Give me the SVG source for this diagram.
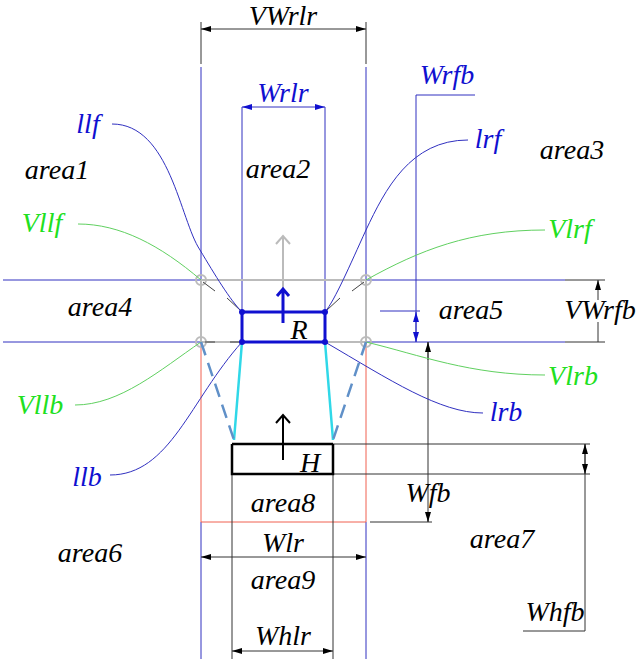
<svg xmlns="http://www.w3.org/2000/svg" width="640" height="659" viewBox="0 0 640 659">
<style>
text{font-family:"Liberation Serif",serif;font-style:italic;font-size:28px;text-anchor:middle}
.k{fill:#000}.b{fill:#1010d0}.g{fill:#20e020}
.bl{stroke:#3030c0;stroke-width:1;fill:none}
.gl{stroke:#60d060;stroke-width:1;fill:none}
.dk{stroke:#333;stroke-width:1;fill:none}
.gr{stroke:#bbb;stroke-width:2;fill:none}
</style>
<defs>
<marker id="ak" markerWidth="10" markerHeight="6" refX="10" refY="3" orient="auto-start-reverse" markerUnits="userSpaceOnUse"><path d="M0,0L10,3L0,6z" fill="#000"/></marker>
<marker id="ab" markerWidth="10" markerHeight="6" refX="10" refY="3" orient="auto-start-reverse" markerUnits="userSpaceOnUse"><path d="M0,0L10,3L0,6z" fill="#1010d0"/></marker>
</defs>
<g id="connectors">
<path class="bl" d="M3,280H565M3,342H565M201,67V280M366,67V280M201,522V662M366,522V662M242,107V312M325,107V312M380,311H420"/>
<path d="M201,342V522M366,342V522M201,522H366" stroke="#f06050" stroke-width="1" fill="none"/>
<path class="dk" d="M201,22V64M366,22V64M565,280H605M565,342H605M232,474V659M333,474V659M333,444H590M333,474H590M428,342V522M370,522H432M523,631H585V444"/>
<path class="dk" d="M201,29H366" marker-start="url(#ak)" marker-end="url(#ak)"/>
<path class="dk" d="M201,557H366" marker-start="url(#ak)" marker-end="url(#ak)"/>
<path class="dk" d="M232,651H333" marker-start="url(#ak)" marker-end="url(#ak)"/>
<path class="dk" d="M598,280V300M598,342V322" marker-start="url(#ak)"/>
<path class="dk" d="M585,444V474" marker-start="url(#ak)" marker-end="url(#ak)"/>
<path class="dk" d="M428,360V342" marker-end="url(#ak)"/>
<path class="dk" d="M428,512V522" marker-end="url(#ak)"/>
<path class="bl" d="M242,107H325" marker-start="url(#ab)" marker-end="url(#ab)"/>
<path class="bl" d="M416,342V95H475"/>
<path class="bl" d="M416,312V342" marker-start="url(#ab)" marker-end="url(#ab)"/>
<path class="gr" d="M201,280H366M201,280V342M366,280V342M201,342H242M325,342H366"/>
<path class="gr" d="M283,305V236M276,244L283,236L290,244"/>
<circle cx="201" cy="280" r="5" class="gr" stroke-width="1.5"/>
<circle cx="366" cy="280" r="5" class="gr" stroke-width="1.5"/>
<circle cx="201" cy="342" r="5" class="gr" stroke-width="1.5"/>
<circle cx="366" cy="342" r="5" class="gr" stroke-width="1.5"/>
<path d="M203,282L215,291M227,298L240,310M364,282L352,291M340,298L327,310M205,342H215M230,342H242" stroke="#444" stroke-width="1"/>
<path class="bl" d="M112,124C170,124 180,220 200,250C215,275 230,300 242,312"/>
<path class="bl" d="M468,140C410,140 385,190 366,230C350,265 335,300 325,312"/>
<path class="gl" d="M78,224C120,224 160,245 201,280"/>
<path class="gl" d="M545,230C470,230 420,250 366,280"/>
<path class="gl" d="M75,405C120,405 160,370 201,342"/>
<path class="gl" d="M545,375C470,375 420,355 366,342"/>
<path class="bl" d="M110,475C170,475 190,400 242,342"/>
<path class="bl" d="M483,413C440,413 390,380 325,342"/>
<path d="M242,342L234,440M325,342L333,440" stroke="#30d8e8" stroke-width="2.5"/>
<path d="M201,342L234,440M366,342L333,440" stroke="#6090c8" stroke-width="2.5" stroke-dasharray="14,8" fill="none"/>
</g>
<g id="R">
<rect x="242" y="312" width="83" height="30" fill="none" stroke="#1010d0" stroke-width="3"/>
<circle cx="242" cy="312" r="3" fill="#1010d0"/><circle cx="325" cy="312" r="3" fill="#1010d0"/>
<circle cx="242" cy="342" r="3" fill="#1010d0"/><circle cx="325" cy="342" r="3" fill="#1010d0"/>
<path d="M283,323V290M277,296L283,289L289,296" stroke="#1010d0" stroke-width="3" fill="none"/>
<text x="299" y="339" class="k">R</text>
</g>
<g id="H">
<path d="M232,444H333M232,444V474H333V444" stroke="#000" stroke-width="2.5" fill="none"/>
<path d="M283,460V415M276,423L283,415L290,423" stroke="#000" stroke-width="2" fill="none"/>
<text x="310" y="472" class="k">H</text>
</g>
<g id="labels">
<text x="283" y="25" class="k">VWrlr</text>
<text x="283" y="102" class="b">Wrlr</text>
<text x="447" y="84" class="b">Wrfb</text>
<text x="88" y="133" class="b">llf</text>
<text x="488" y="148" class="b">lrf</text>
<text x="57" y="179" class="k">area1</text>
<text x="278" y="178" class="k">area2</text>
<text x="572" y="159" class="k">area3</text>
<text x="42" y="232" class="g">Vllf</text>
<text x="570" y="238" class="g">Vlrf</text>
<text x="100" y="316" class="k">area4</text>
<text x="471" y="319" class="k">area5</text>
<text x="600" y="319" class="k">VWrfb</text>
<text x="40" y="414" class="g">Vllb</text>
<text x="573" y="385" class="g">Vlrb</text>
<text x="87" y="486" class="b">llb</text>
<text x="506" y="421" class="b">lrb</text>
<text x="428" y="502" class="k">Wfb</text>
<text x="283" y="512" class="k">area8</text>
<text x="90" y="562" class="k">area6</text>
<text x="502" y="548" class="k">area7</text>
<text x="283" y="552" class="k">Wlr</text>
<text x="283" y="589" class="k">area9</text>
<text x="555" y="621" class="k">Whfb</text>
<text x="283" y="645" class="k">Whlr</text>
</g>
</svg>
